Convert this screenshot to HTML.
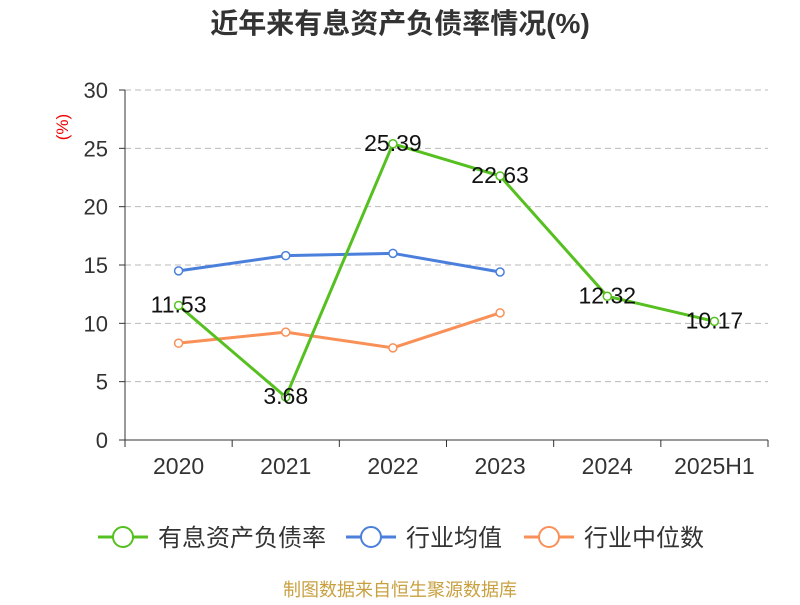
<!DOCTYPE html>
<html><head><meta charset="utf-8"><style>
body{margin:0;background:#fff;}
svg text{font-family:"Liberation Sans","Noto Sans CJK SC",sans-serif;}
</style></head><body>
<svg width="800" height="600" id="c">
<text x="400" y="33" text-anchor="middle" font-size="28" font-weight="bold" fill="#333">近年来有息资产负债率情况(%)</text>
<text x="68" y="127" text-anchor="middle" font-size="17" fill="#e00" transform="rotate(-90 68 127)">(%)</text>
<g id="grid"></g><g id="axes"></g><g id="series"></g><g id="legend"></g>
<text x="400" y="596" text-anchor="middle" font-size="18" fill="#c8a040">制图数据来自恒生聚源数据库</text>
</svg>
<script>
const categories=["2020","2021","2022","2023","2024","2025H1"];
const yTicks=[0,5,10,15,20,25,30];
const debtRatio=[11.53,3.68,25.39,22.63,12.32,10.17];
const industryAvg=[14.5,15.8,16.0,14.4];
const industryMedian=[8.3,9.25,7.9,10.9];
const NS="http://www.w3.org/2000/svg";
const x0=125,x1=768,y0=440,y1=90,bw=(x1-x0)/categories.length;
const xs=i=>x0+bw*(i+0.5), ys=v=>y0-(v/30)*(y0-y1);
function mk(t,a,p){const e=document.createElementNS(NS,t);for(const k in a)e.setAttribute(k,a[k]);p.appendChild(e);return e;}
const grid=document.getElementById('grid'),axes=document.getElementById('axes'),ser=document.getElementById('series'),leg=document.getElementById('legend');
yTicks.forEach(v=>{
 if(v>0){const g=mk('line',{x1:x0,x2:x1,y1:ys(v),y2:ys(v),stroke:'#bbb','stroke-dasharray':'6,4'},grid);}
 const tk=mk('line',{x1:x0-6,x2:x0,y1:ys(v),y2:ys(v),stroke:'#333'},axes);
 
 const t=mk('text',{x:x0-17,y:ys(v)+8,'text-anchor':'end','font-size':22,fill:'#333'},axes);t.textContent=v;
 
});
let a=mk('line',{x1:x0,x2:x0,y1:y1,y2:y0,stroke:'#333'},axes);
a=mk('line',{x1:x0,x2:x1,y1:y0,y2:y0,stroke:'#333'},axes);
for(let i=0;i<=categories.length;i++){const l=mk('line',{x1:x0+bw*i,x2:x0+bw*i,y1:y0,y2:y0+7,stroke:'#333'},axes);}
categories.forEach((c,i)=>{const t=mk('text',{x:xs(i),y:474,'text-anchor':'middle','font-size':23,fill:'#333'},axes);t.textContent=c;});
function series(vals,color,name,labels){
 const g=mk('g',{},ser);
 const p=mk('polyline',{points:vals.map((v,i)=>xs(i)+','+ys(v)).join(' '),fill:'none',stroke:color,'stroke-width':3},g);
 
 vals.forEach((v,i)=>{const c=mk('circle',{cx:xs(i),cy:ys(v),r:4,fill:'#fff',stroke:color,'stroke-width':1.5},g);
  
  if(labels){const t=mk('text',{x:xs(i),y:ys(v)+7,'text-anchor':'middle','font-size':23,fill:'#111'},g);t.textContent=v.toFixed(2);}
 });
}
series(industryAvg,'#4a7fdc','industry-average',false);
series(industryMedian,'#f89058','industry-median',false);
series(debtRatio,'#55c020','debt-ratio',true);
[["有息资产负债率","#55c020",98],["行业均值","#4a7fdc",346],["行业中位数","#f89058",524]].forEach(([n,c,x])=>{
 const g=mk('g',{},leg);
 mk('line',{x1:x,x2:x+50,y1:537,y2:537,stroke:c,'stroke-width':3},g);
 mk('circle',{cx:x+25,cy:537,r:10,fill:'#fff',stroke:c,'stroke-width':2},g);
 const t=mk('text',{x:x+60,y:546,'font-size':24,fill:'#333'},g);t.textContent=n;
});
</script>
</body></html>
